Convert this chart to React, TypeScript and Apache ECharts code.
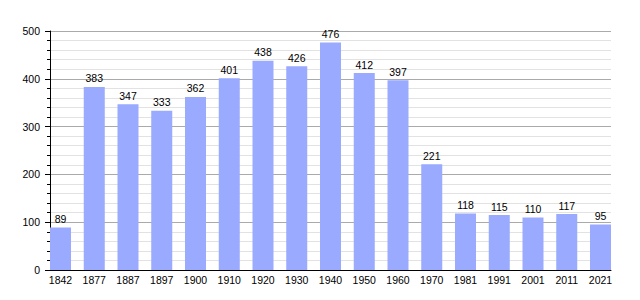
import React, { useEffect, useRef } from "react";
import * as echarts from "echarts";

const years = ["1842", "1877", "1887", "1897", "1900", "1910", "1920", "1930", "1940", "1950", "1960", "1970", "1981", "1991", "2001", "2011", "2021"];
const population = [89, 383, 347, 333, 362, 401, 438, 426, 476, 412, 397, 221, 118, 115, 110, 117, 95];
const yMin = 0;
const yMax = 500;
const yInterval = 100;

export default function App() {
  const ref = useRef<HTMLDivElement>(null);
  useEffect(() => {
    if (!ref.current) return;
    const chart = echarts.init(ref.current, undefined, { renderer: "svg" });
    const font = "Liberation Sans, Arial, sans-serif";
    chart.setOption({
      animation: false,
      grid: [
        { left: 50, right: 29, top: 31, bottom: 30 },
        { left: 60.5, right: 39.5, top: 31, bottom: 30 },
      ],
      xAxis: [
        {
          gridIndex: 0,
          type: "category",
          data: years,
          axisLine: { show: true, lineStyle: { color: "#000", width: 1 } },
          axisTick: { show: false },
          axisLabel: { show: false },
          splitLine: { show: false },
        },
        {
          gridIndex: 1,
          type: "category",
          data: years,
          boundaryGap: false,
          axisLine: { show: false },
          axisTick: { show: false },
          axisLabel: { show: true, color: "#000", fontSize: 10.5, fontFamily: font, margin: 4, interval: 0 },
          splitLine: { show: false },
        },
      ],
      yAxis: [
        {
          gridIndex: 0,
          type: "value",
          min: yMin,
          max: yMax,
          interval: yInterval,
          axisLine: { show: true, lineStyle: { color: "#000", width: 1 } },
          axisTick: { show: true, length: 5, lineStyle: { color: "#000" } },
          minorTick: { show: true, splitNumber: 5, length: 3, lineStyle: { color: "#000" } },
          axisLabel: { color: "#000", fontSize: 10.5, fontFamily: font, margin: 10 },
          splitLine: { show: true, lineStyle: { color: "#aaaaaa", width: 1 } },
          minorSplitLine: { show: true, lineStyle: { color: "#e2e2e2", width: 1 } },
        },
        {
          gridIndex: 1,
          type: "value",
          min: yMin,
          max: yMax,
          interval: yInterval,
          show: false,
          splitLine: { show: false },
        },
      ],
      series: [
        {
          type: "bar",
          xAxisIndex: 1,
          yAxisIndex: 1,
          data: population,
          barWidth: 21,
          clip: false,
          itemStyle: { color: "#99aaff" },
          label: { show: true, position: "top", distance: 3, color: "#000", fontSize: 10.5, fontFamily: font },
        },
      ],
    });
    return () => chart.dispose();
  }, []);
  return <div ref={ref} style={{ width: 640, height: 300, position: "absolute", left: 0, top: 0 }} />;
}
